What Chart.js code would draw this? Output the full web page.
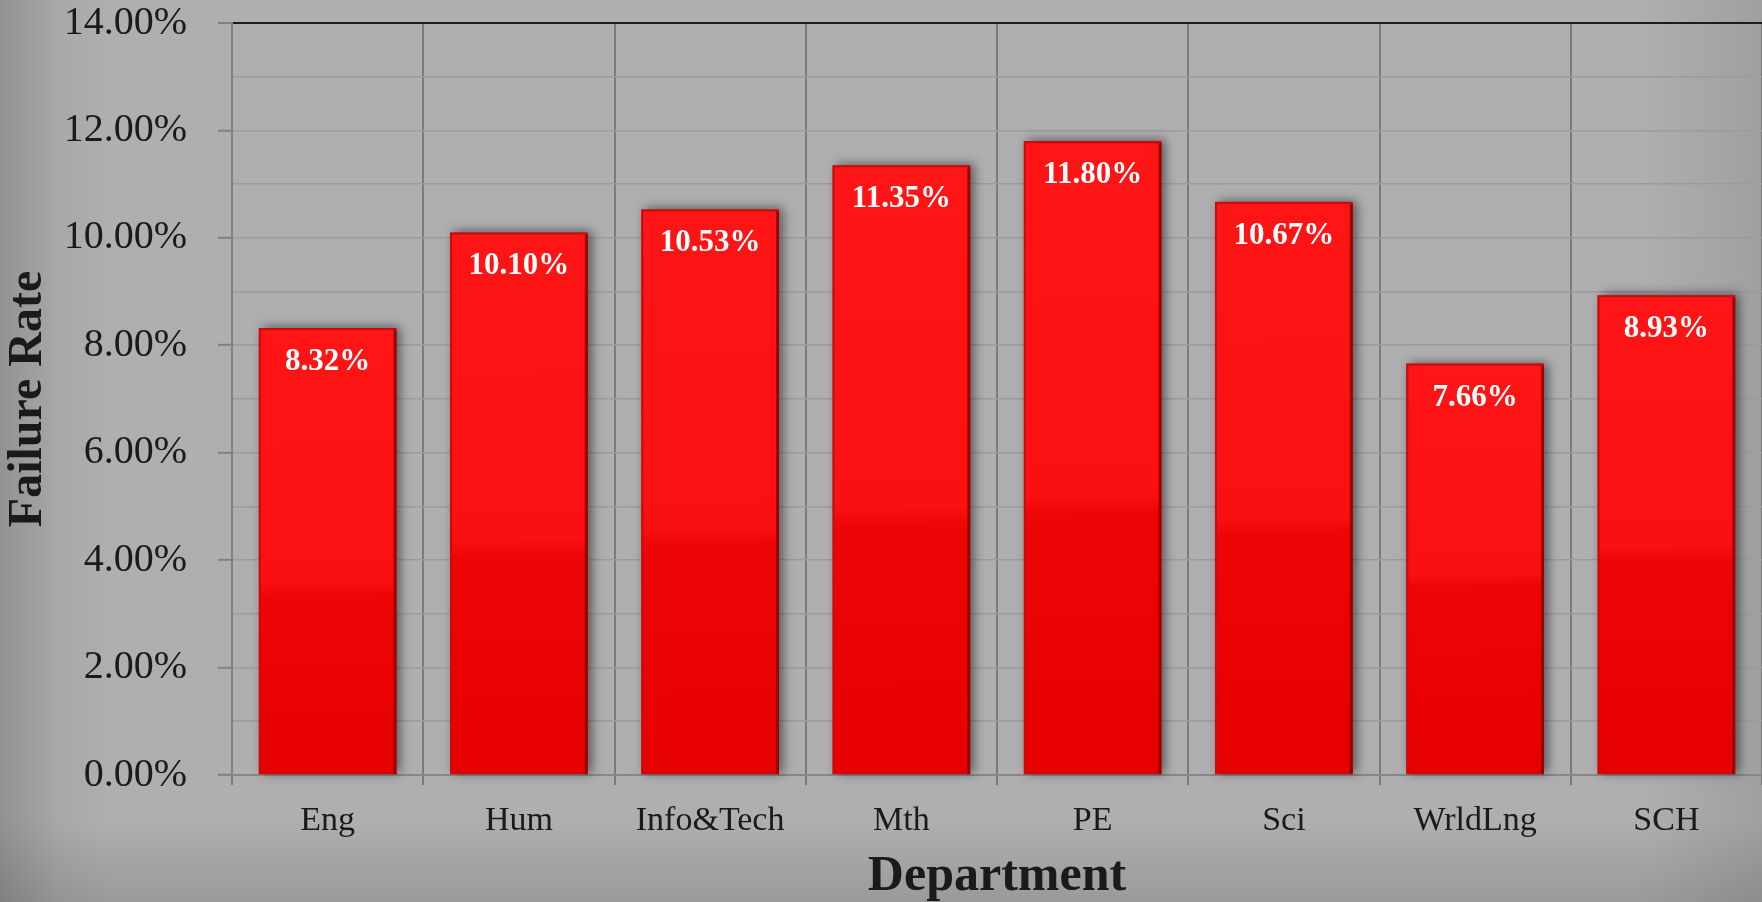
<!DOCTYPE html>
<html>
<head>
<meta charset="utf-8">
<script src="https://cdn.jsdelivr.net/npm/chart.js@4.4.1/dist/chart.umd.min.js"></script>
<style>
    html, body { margin: 0; padding: 0; }
    #wrap {
        width: 1762px;
        height: 902px;
        position: relative;
        background:
            linear-gradient(to right, rgba(0,0,0,0.17) 0px, rgba(0,0,0,0.04) 60px, rgba(0,0,0,0) 110px, rgba(0,0,0,0) 1640px, rgba(0,0,0,0.09) 1762px),
            linear-gradient(to bottom, rgba(0,0,0,0) 0px, rgba(0,0,0,0) 820px, rgba(0,0,0,0.12) 902px),
            #afafb1;
    }
</style>
</head>
<body>
<div id="wrap"><canvas id="failChart"></canvas></div>
<script>
// departments and failure rates (%)
const departments = ['Eng', 'Hum', 'Info&Tech', 'Mth', 'PE', 'Sci', 'WrldLng', 'SCH'];
const failureRates = [8.32, 10.10, 10.53, 11.35, 11.80, 10.67, 7.66, 8.93];
const yTicks = [0, 2, 4, 6, 8, 10, 12, 14];

const serif = "'Liberation Serif', 'Times New Roman', serif";

function barFill(context) {
    const chart = context.chart;
    const { ctx, chartArea, scales } = chart;
    if (!chartArea) return '#ff1010';
    const top = scales.y.getPixelForValue(context.raw);
    const base = scales.y.getPixelForValue(0);
    const g = ctx.createLinearGradient(0, top, 8, base);
    g.addColorStop(0, '#ff1515');
    g.addColorStop(0.58, '#fa1010');
    g.addColorStop(0.61, '#ee0505');
    g.addColorStop(1, '#e70000');
    return g;
}

// soft shadow behind each bar, drawn before the bars
const barShadow = {
    id: 'barShadow',
    beforeDatasetsDraw(chart) {
        const ctx = chart.ctx;
        const meta = chart.getDatasetMeta(0);
        ctx.save();
        ctx.shadowColor = 'rgba(0,0,0,0.5)';
        ctx.shadowBlur = 10;
        ctx.shadowOffsetX = 4;
        ctx.shadowOffsetY = -1;
        ctx.fillStyle = '#d00000';
        meta.data.forEach(bar => {
            const { x, y, base, width } = bar.getProps(['x', 'y', 'base', 'width'], true);
            ctx.fillRect(x - width / 2, y, width, base - y);
        });
        ctx.restore();
    }
};

// dark right edge + value labels inside the bars
const barLabels = {
    id: 'barLabels',
    afterDatasetsDraw(chart) {
        const ctx = chart.ctx;
        const meta = chart.getDatasetMeta(0);
        ctx.save();
        meta.data.forEach((bar, i) => {
            const { x, y, base, width } = bar.getProps(['x', 'y', 'base', 'width'], true);
            ctx.fillStyle = 'rgba(110,0,0,0.55)';
            ctx.fillRect(x + width / 2 - 3, y + 2, 3, base - y - 2);

            ctx.fillStyle = '#ffffff';
            ctx.font = 'bold 31px ' + serif;
            ctx.textAlign = 'center';
            ctx.textBaseline = 'alphabetic';
            ctx.fillText(failureRates[i].toFixed(2) + '%', x, y + 42);
        });
        ctx.restore();
    }
};

new Chart(document.getElementById('failChart'), {
    type: 'bar',
    data: {
        labels: departments,
        datasets: [{
            data: failureRates,
            backgroundColor: barFill,
            borderColor: '#c80c0c',
            borderWidth: 2,
            borderSkipped: false,
            barPercentage: 0.72,
            categoryPercentage: 1.0
        }]
    },
    options: {
        responsive: true,
        maintainAspectRatio: false,
        animation: false,
        layout: { padding: { top: 23, right: 0, left: 0, bottom: 0 } },
        plugins: {
            legend: { display: false },
            tooltip: { enabled: false }
        },
        scales: {
            x: {
                grid: {
                    color: '#7b7b7d',
                    lineWidth: 2,
                    tickLength: 10,
                    offset: true
                },
                border: { display: true, color: '#88888a', width: 2 },
                ticks: {
                    color: '#1a1a1a',
                    font: { family: serif, size: 34 },
                    padding: 16
                },
                title: {
                    display: true,
                    text: 'Department',
                    color: '#1a1a1a',
                    font: { family: serif, size: 50, weight: 'bold', lineHeight: 1 },
                    padding: { top: 0, bottom: 0 }
                },
                afterFit(scale) {
                    scale.height = 127;
                    scale.paddingLeft = 0;
                    scale.paddingRight = 0;
                }
            },
            y: {
                min: 0,
                max: 14,
                afterBuildTicks(scale) {
                    const all = [];
                    for (let v = 0; v <= 14; v++) all.push({ value: v });
                    scale.ticks = all;
                },
                grid: {
                    color: ctx => ctx.tick && ctx.tick.value === 14 ? '#1c1c1c' : '#9b9b9d',
                    lineWidth: ctx => ctx.tick && ctx.tick.value === 14 ? 2 : 1.6,
                    tickColor: ctx => yTicks.includes(ctx.tick.value) ? '#808082' : 'rgba(0,0,0,0)',
                    tickLength: 14,
                    tickWidth: 2
                },
                border: { display: true, color: '#808082', width: 2 },
                ticks: {
                    color: '#1a1a1a',
                    font: { family: serif, size: 40 },
                    padding: 31,
                    autoSkip: false,
                    callback: value => yTicks.includes(value) ? value.toFixed(2) + '%' : ''
                },
                title: {
                    display: true,
                    text: 'Failure Rate',
                    color: '#1a1a1a',
                    font: { family: serif, size: 48, weight: 'bold', lineHeight: 1 },
                    padding: { top: 5, bottom: 0 }
                },
                afterFit(scale) {
                    scale.width = 232;
                    scale.paddingTop = 0;
                    scale.paddingBottom = 0;
                }
            }
        }
    },
    plugins: [barShadow, barLabels]
});
</script>
</body>
</html>
